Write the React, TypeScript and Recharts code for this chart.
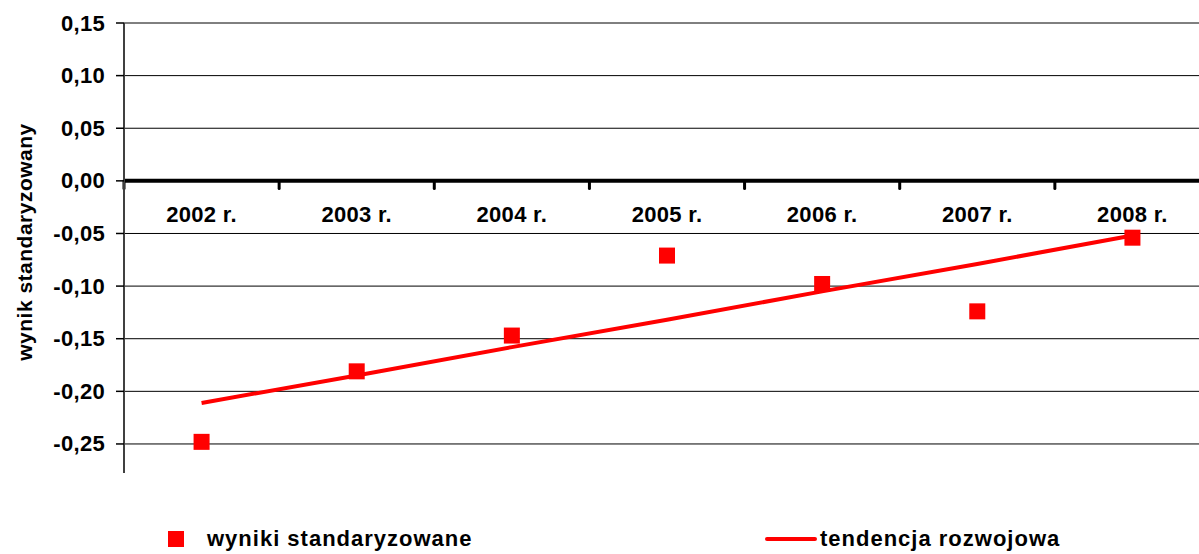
import {
  ComposedChart,
  Line,
  XAxis,
  YAxis,
  CartesianGrid,
  ReferenceLine,
  ReferenceDot,
  Legend,
} from "recharts";

const years = ["2002 r.", "2003 r.", "2004 r.", "2005 r.", "2006 r.", "2007 r.", "2008 r."];
const standardized = [-0.248, -0.181, -0.147, -0.071, -0.098, -0.124, -0.054];
const trend = [-0.211, -0.185, -0.158, -0.132, -0.105, -0.079, -0.052];
const yTicks = [-0.25, -0.2, -0.15, -0.1, -0.05, 0, 0.05, 0.1, 0.15];

const data = years.map((year, i) => ({
  year,
  wynik: standardized[i],
  trend: trend[i],
}));

const RED = "#ff0000";
const font = '"Liberation Sans", Arial, sans-serif';
const boldText = {
  fontFamily: font,
  fontWeight: 700,
  fontSize: 22,
  letterSpacing: 0.3,
  fill: "#000",
};

const fmt = (v: number) => v.toFixed(2).replace(".", ",").replace("-0,00", "0,00");

const SquareDot = (props: any) => {
  const { cx, cy, index } = props;
  if (cx == null || cy == null) return null;
  return <rect key={index} x={cx - 8} y={cy - 8} width={16} height={16} fill={RED} />;
};

const YTick = (props: any) => {
  const { x, y, payload } = props;
  return (
    <text x={x} y={y} textAnchor="end" dominantBaseline="central" style={boldText}>
      {fmt(payload.value)}
    </text>
  );
};

const YTitle = (props: any) => {
  const { viewBox } = props;
  const cx = viewBox.x + 24;
  const cy = viewBox.y + viewBox.height / 2 - 6;
  return (
    <text
      x={cx}
      y={cy}
      transform={`rotate(-90, ${cx}, ${cy})`}
      textAnchor="middle"
      dominantBaseline="central"
      style={{ ...boldText, fontSize: 21, letterSpacing: 0.5 }}
    >
      wynik standaryzowany
    </text>
  );
};

const renderLegend = () => (
  <div style={{ position: "relative", height: 30, width: 1199, fontFamily: font, fontWeight: 700, fontSize: 22, letterSpacing: 1, color: "#000" }}>
    <span style={{ position: "absolute", left: 168, top: 7, width: 16, height: 16, background: RED }} />
    <span style={{ position: "absolute", left: 207, top: 2, lineHeight: "26px" }}>wyniki standaryzowane</span>
    <span style={{ position: "absolute", left: 765, top: 13, width: 52, height: 4, borderRadius: 2, background: RED }} />
    <span style={{ position: "absolute", left: 820, top: 2, lineHeight: "26px" }}>tendencja rozwojowa</span>
  </div>
);

export default function App() {
  return (
    <div style={{ width: 1199, height: 554, overflow: "hidden", background: "#fff" }}>
      <style>{"body{margin:0}"}</style>
      <ComposedChart
        width={1210}
        height={554}
        data={data}
        margin={{ top: 23, right: 0, bottom: 51, left: 0 }}
      >
        <CartesianGrid vertical={false} horizontalValues={yTicks} stroke="#000" strokeWidth={1} />
        <XAxis dataKey="year" scale="band" hide />
        <YAxis
          width={124}
          domain={[-0.2776, 0.15]}
          ticks={yTicks}
          interval={0}
          tick={<YTick />}
          tickSize={8}
          tickMargin={11}
          tickLine={{ stroke: "#000", strokeWidth: 1.5 }}
          axisLine={{ stroke: "#404040", strokeWidth: 2 }}
          label={{ content: <YTitle /> }}
        />
        <ReferenceLine y={0} stroke="#000" strokeWidth={4} />
        {years.map((y) => (
          <ReferenceLine
            key={`tick-${y}`}
            segment={[
              { x: y, y: 0 },
              { x: y, y: -0.0072 },
            ]}
            position="start"
            stroke="#000"
            strokeWidth={3}
            strokeLinecap="round"
          />
        ))}
        {years.map((y) => (
          <ReferenceDot
            key={`lbl-${y}`}
            x={y}
            y={0}
            r={0}
            shape={(p: any) => (
              <text x={p.cx} y={p.cy + 34} textAnchor="middle" dominantBaseline="central" style={boldText}>
                {y}
              </text>
            )}
          />
        ))}
        <Line
          dataKey="trend"
          name="tendencja rozwojowa"
          stroke={RED}
          strokeWidth={4}
          dot={false}
          activeDot={false}
          isAnimationActive={false}
        />
        <Line
          dataKey="wynik"
          name="wyniki standaryzowane"
          stroke="none"
          dot={<SquareDot />}
          activeDot={false}
          isAnimationActive={false}
        />
        <Legend
          verticalAlign="bottom"
          content={renderLegend}
          wrapperStyle={{ left: 0, bottom: 0, width: 1199, height: 30 }}
        />
      </ComposedChart>
    </div>
  );
}
